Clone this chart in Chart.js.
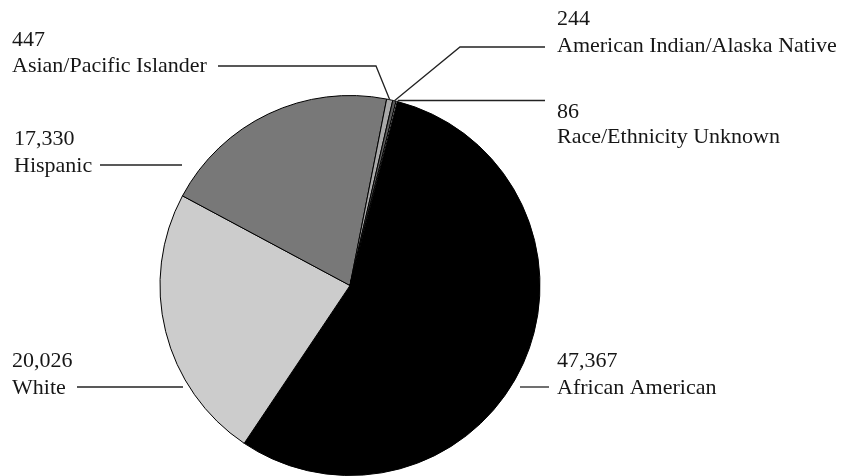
<!DOCTYPE html>
<html>
<head>
<meta charset="utf-8">
<script src="https://cdn.jsdelivr.net/npm/chart.js@4/dist/chart.umd.min.js"></script>
<style>
  html, body { margin: 0; padding: 0; background: #ffffff; }
  #wrap { width: 849px; height: 476px; position: relative; }
</style>
</head>
<body>
<div id="wrap"><canvas id="pie" width="849" height="476"></canvas></div>
<script>
// Enrollment by race/ethnicity
const categories = [
  'African American',
  'White',
  'Hispanic',
  'Asian/Pacific Islander',
  'American Indian/Alaska Native',
  'Race/Ethnicity Unknown'
];
const counts = [47367, 20026, 17330, 447, 244, 86];
const sliceColors = ['#000000', '#cccccc', '#787878', '#a8a8a8', '#5a5a5a', '#ffffff'];

// Callout placement for each slice: text anchor, baselines of the two text
// lines, and the route of the leader line (null endpoints snap to the slice).
const callouts = [
  { x: 557, numY: 367, nameY: 394, line: [[549, 387], [520, 387]] },
  { x: 12,  numY: 367, nameY: 394, line: [[77, 387], [183, 387]] },
  { x: 14,  numY: 145, nameY: 172, line: [[100, 165], [182, 165]] },
  { x: 12,  numY: 46,  nameY: 72,  line: [[218, 66], [376, 66], 'slice'] },
  { x: 557, numY: 25,  nameY: 52,  line: [[545, 47], [460, 47], 'slice'] },
  { x: 557, numY: 118, nameY: 143, line: ['sliceH', [545, null]] }
];

const FONT = '22px "Liberation Serif", "Times New Roman", serif';

const calloutPlugin = {
  id: 'callouts',
  afterDraw(chart) {
    const ctx = chart.ctx;
    const arcs = chart.getDatasetMeta(0).data;
    ctx.save();
    ctx.font = FONT;
    ctx.fillStyle = '#161616';
    ctx.textBaseline = 'alphabetic';
    ctx.textAlign = 'left';
    callouts.forEach((c, i) => {
      ctx.fillText(counts[i].toLocaleString('en-US'), c.x, c.numY);
      ctx.fillText(categories[i], c.x, c.nameY);

      // point on the rim at the middle of the slice
      const a = arcs[i];
      const mid = (a.startAngle + a.endAngle) / 2;
      const rim = [a.x + Math.cos(mid) * a.outerRadius, a.y + Math.sin(mid) * a.outerRadius];

      const pts = c.line.map(p => {
        if (p === 'slice') return rim;
        if (p === 'sliceH') return [rim[0] + 1, Math.round(rim[1]) - 0.5];
        return p;
      });
      for (let k = 0; k < pts.length; k++) {
        if (pts[k][1] === null) pts[k] = [pts[k][0], pts[k - 1][1]];
      }
      ctx.beginPath();
      ctx.strokeStyle = '#222222';
      ctx.lineWidth = 1.3;
      pts.forEach((p, k) => (k === 0 ? ctx.moveTo(p[0], p[1]) : ctx.lineTo(p[0], p[1])));
      ctx.stroke();
    });
    ctx.restore();
  }
};

new Chart(document.getElementById('pie'), {
  type: 'pie',
  data: {
    labels: categories,
    datasets: [{
      data: counts,
      backgroundColor: sliceColors,
      borderColor: '#000000',
      borderWidth: 1
    }]
  },
  options: {
    responsive: false,
    animation: false,
    rotation: 14.4,
    layout: { padding: { top: 95, bottom: 0, left: 0, right: 149 } },
    plugins: {
      legend: { display: false },
      tooltip: { enabled: false }
    }
  },
  plugins: [calloutPlugin]
});
</script>
</body>
</html>
